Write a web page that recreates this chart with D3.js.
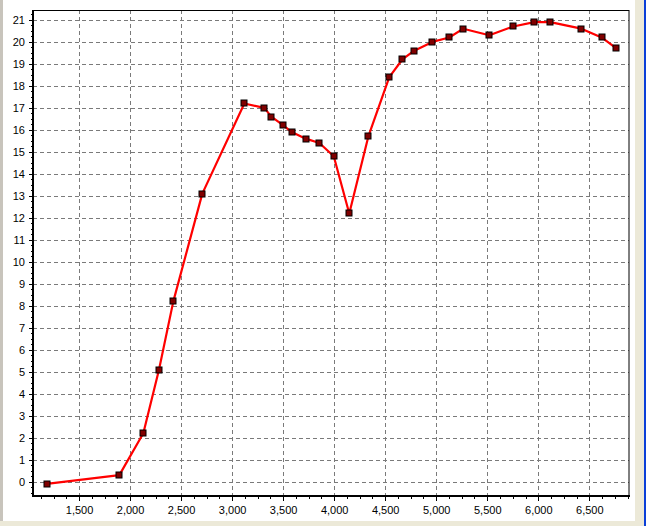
<!DOCTYPE html>
<meta charset="utf-8">
<style>
  html, body { margin: 0; padding: 0; background: #ece9d8; }
  svg { display: block; }
  .tick text { font-family: "Liberation Sans", Arial, sans-serif; font-size: 11px; fill: #000; }
</style>
<svg width="646" height="526"></svg>
<script src="https://cdn.jsdelivr.net/npm/d3@7"></script>
<script>

// values
var rpm = [1183, 1895, 2130, 2284, 2424, 2708, 3120, 3316, 3384, 3502, 3584, 3721, 3855, 3996, 4148,
           4335, 4540, 4668, 4785, 4962, 5128, 5265, 5520, 5755, 5961, 6118, 6422, 6621, 6765];
var values = [-0.1, 0.3, 2.2, 5.1, 8.2, 13.1, 17.2, 17.0, 16.6, 16.2, 15.9, 15.6, 15.4, 14.8, 12.2,
              15.7, 18.4, 19.2, 19.6, 20.0, 20.2, 20.6, 20.3, 20.7, 20.9, 20.9, 20.6, 20.2, 19.7];
var xTicks = [1500, 2000, 2500, 3000, 3500, 4000, 4500, 5000, 5500, 6000, 6500];
var yTicks = [0, 1, 2, 3, 4, 5, 6, 7, 8, 9, 10, 11, 12, 13, 14, 15, 16, 17, 18, 19, 20, 21];
var xDomain = [1049, 6889],
    yDomain = [-0.65, 21.45];

var svg = d3.select("svg"),
    pLeft = 33, pRight = 629, pTop = 10, pBottom = 496;

// window frame
svg.append("rect").attr("x", 0).attr("y", 0).attr("width", 646).attr("height", 526).attr("fill", "#ece9d8");
svg.append("rect").attr("x", 0).attr("y", 0).attr("width", 3).attr("height", 521).attr("fill", "#c8c4bc");
svg.append("rect").attr("x", 3).attr("y", 0).attr("width", 632).attr("height", 521).attr("fill", "#fff");
svg.append("rect").attr("x", 644).attr("y", 0).attr("width", 2).attr("height", 526).attr("fill", "#0a3fd8");

var x = d3.scaleLinear().domain(xDomain).range([pLeft, pRight]),
    y = d3.scaleLinear().domain(yDomain).range([pBottom, pTop]);

// grid
var grid = svg.append("g")
    .attr("stroke", "#7a7a7a")
    .attr("stroke-width", 1)
    .attr("stroke-dasharray", "4,3")
    .attr("shape-rendering", "crispEdges");

grid.selectAll(".v").data(xTicks).enter().append("line")
    .attr("x1", function(d) { return Math.round(x(d)) + 0.5; })
    .attr("x2", function(d) { return Math.round(x(d)) + 0.5; })
    .attr("y1", pTop).attr("y2", pBottom);

grid.selectAll(".h").data(yTicks).enter().append("line")
    .attr("y1", function(d) { return Math.round(y(d)) + 0.5; })
    .attr("y2", function(d) { return Math.round(y(d)) + 0.5; })
    .attr("x1", pLeft).attr("x2", pRight);

// axes
var minorX = d3.range(1125, 6890, 125),
    minorY = d3.range(-0.5, 21.45, 0.25);

svg.append("g")
    .attr("transform", "translate(0," + pBottom + ")")
    .call(d3.axisBottom(x).tickValues(minorX).tickSize(3).tickFormat(""))
    .call(function(g) { g.select(".domain").remove(); });

svg.append("g")
    .attr("transform", "translate(0," + pBottom + ")")
    .call(d3.axisBottom(x).tickValues(xTicks).tickSize(5).tickPadding(5).tickFormat(d3.format(",")))
    .call(function(g) { g.select(".domain").remove(); });

svg.append("g")
    .attr("transform", "translate(" + pLeft + ",0)")
    .call(d3.axisLeft(y).tickValues(minorY).tickSize(2).tickFormat(""))
    .call(function(g) { g.select(".domain").remove(); });

svg.append("g")
    .attr("transform", "translate(" + pLeft + ",0)")
    .call(d3.axisLeft(y).tickValues(yTicks).tickSize(4).tickPadding(4))
    .call(function(g) { g.select(".domain").remove(); });

svg.selectAll(".tick line").attr("shape-rendering", "crispEdges");

// plot frame
svg.append("rect")
    .attr("x", pLeft).attr("y", pTop + 0.5)
    .attr("width", pRight - pLeft).attr("height", pBottom - pTop)
    .attr("fill", "none").attr("stroke", "#000").attr("stroke-width", 1);
svg.append("line").attr("x1", pLeft).attr("x2", pLeft).attr("y1", pTop).attr("y2", pBottom + 1)
    .attr("stroke", "#000").attr("stroke-width", 2);
svg.append("line").attr("x1", pLeft - 1).attr("x2", pRight + 1).attr("y1", pBottom).attr("y2", pBottom)
    .attr("stroke", "#000").attr("stroke-width", 2);

// series
var points = rpm.map(function(d, i) { return [d, values[i]]; });

var line = d3.line()
    .x(function(d) { return x(d[0]); })
    .y(function(d) { return y(d[1]); });

svg.append("path")
    .datum(points)
    .attr("d", line)
    .attr("fill", "none")
    .attr("stroke", "#ff0000")
    .attr("stroke-width", 2.2)
    .attr("stroke-linejoin", "round");

svg.selectAll(".mark").data(points).enter().append("rect")
    .attr("x", function(d) { return Math.round(x(d[0])) - 3; })
    .attr("y", function(d) { return Math.round(y(d[1])) - 3; })
    .attr("width", 6).attr("height", 6)
    .attr("fill", "#800000")
    .attr("stroke", "#000")
    .attr("stroke-width", 1);

</script>
